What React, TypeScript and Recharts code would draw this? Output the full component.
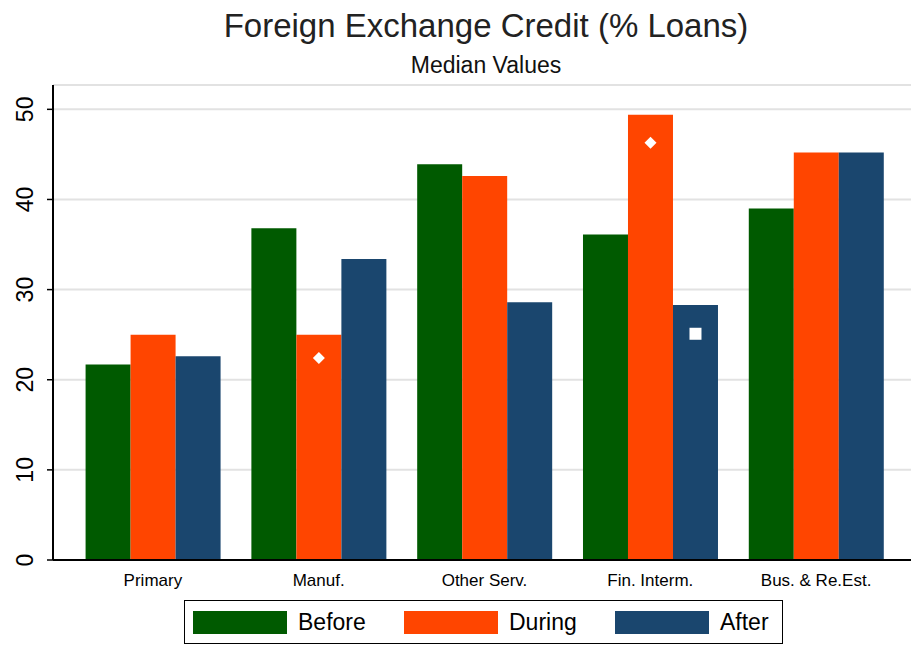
import { BarChart, Bar, XAxis, YAxis, CartesianGrid, LabelList } from 'recharts';

const categories = ['Primary', 'Manuf.', 'Other Serv.', 'Fin. Interm.', 'Bus. & Re.Est.'];
const before = [21.7, 36.8, 43.9, 36.1, 39.0];
const during = [25.0, 25.0, 42.6, 49.4, 45.2];
const after = [22.6, 33.4, 28.6, 28.3, 45.2];
// white point markers drawn on top of some bars
const duringMarker = [null, 22.4, null, 46.3, null];
const afterMarker = [null, null, null, 25.1, null];
const yTicks = [0, 10, 20, 30, 40, 50];

const series = [
  { key: 'before', name: 'Before', color: '#005a00' },
  { key: 'during', name: 'During', color: '#ff4500' },
  { key: 'after', name: 'After', color: '#1a466e' },
];

const data = categories.map((cat, i) => ({
  cat,
  before: before[i],
  during: during[i],
  after: after[i],
  duringMarker: duringMarker[i],
  afterMarker: afterMarker[i],
}));

const FONT = '"Liberation Sans", Arial, sans-serif';

function makeMarker(barKey: 'during' | 'after', shape: 'diamond' | 'square') {
  return (props: any) => {
    const { value, index } = props;
    if (value == null) return null;
    const vb = props.viewBox || props;
    const barVal = (data[index] as any)[barKey];
    const cx = vb.x + vb.width / 2;
    const cy = vb.y + vb.height * (1 - value / barVal);
    if (shape === 'diamond') {
      const r = 6;
      return (
        <path
          d={`M${cx},${cy - r}L${cx + r},${cy}L${cx},${cy + r}L${cx - r},${cy}Z`}
          fill="#fff"
        />
      );
    }
    const s = 6;
    return <rect x={cx - s} y={cy - s} width={s * 2} height={s * 2} fill="#fff" />;
  };
}

const YTick = (props: any) => {
  const { x, y, payload } = props;
  const tx = x - 12;
  return (
    <text
      x={tx}
      y={y}
      transform={`rotate(-90, ${tx}, ${y})`}
      textAnchor="middle"
      fontSize={23}
      fontFamily={FONT}
      fill="#000"
    >
      {payload.value}
    </text>
  );
};

export default function App() {
  return (
    <div style={{ position: 'absolute', left: 0, top: 0, width: 911, height: 646, background: '#fff', fontFamily: FONT }}>
      <div style={{ position: 'absolute', left: 61, width: 850, top: 6, textAlign: 'center', fontSize: 33, lineHeight: '40px', color: '#222' }}>
        Foreign Exchange Credit (% Loans)
      </div>
      <div style={{ position: 'absolute', left: 61, width: 850, top: 50, textAlign: 'center', fontSize: 23, lineHeight: '30px', color: '#111' }}>
        Median Values
      </div>
      <BarChart
        width={911}
        height={646}
        data={data}
        margin={{ top: 85, right: 0, left: 0, bottom: 46 }}
        barCategoryGap="9.4%"
        barGap={0}
      >
        <CartesianGrid vertical={false} stroke="#e2e2e2" strokeWidth={2} />
        <XAxis
          dataKey="cat"
          height={40}
          padding={{ left: 17, right: 12 }}
          axisLine={{ stroke: '#000', strokeWidth: 2 }}
          tickLine={false}
          tick={{ fontSize: 17, fill: '#000', fontFamily: FONT }}
          tickMargin={8}
          interval={0}
        />
        <XAxis
          xAxisId="top"
          orientation="top"
          dataKey="cat"
          height={0}
          tick={false}
          tickLine={false}
          axisLine={{ stroke: '#222', strokeWidth: 2 }}
        />
        <YAxis
          width={53}
          domain={[0, 52.7]}
          ticks={yTicks}
          allowDataOverflow
          axisLine={{ stroke: '#000', strokeWidth: 2 }}
          tickLine={{ stroke: '#000', strokeWidth: 1.5 }}
          tickSize={6}
          tick={<YTick />}
        />
        {series.map((s) => (
          <Bar key={s.key} dataKey={s.key} name={s.name} fill={s.color} isAnimationActive={false}>
            {s.key === 'during' && (
              <LabelList dataKey="duringMarker" content={makeMarker('during', 'diamond')} />
            )}
            {s.key === 'after' && (
              <LabelList dataKey="afterMarker" content={makeMarker('after', 'square')} />
            )}
          </Bar>
        ))}
      </BarChart>
      <div
        style={{
          position: 'absolute',
          left: 184,
          top: 600,
          width: 599,
          height: 44,
          boxSizing: 'border-box',
          border: '1.5px solid #000',
          display: 'flex',
          alignItems: 'center',
          paddingLeft: 8,
          fontSize: 23,
          color: '#000',
        }}
      >
        {series.map((s, i) => (
          <div
            key={s.key}
            style={{ display: 'flex', alignItems: 'center', width: i < 2 ? 211 : 'auto', flexShrink: 0 }}
          >
            <div style={{ width: 94, height: 23, background: s.color, marginRight: 11, flexShrink: 0 }} />
            <span>{s.name}</span>
          </div>
        ))}
      </div>
    </div>
  );
}
